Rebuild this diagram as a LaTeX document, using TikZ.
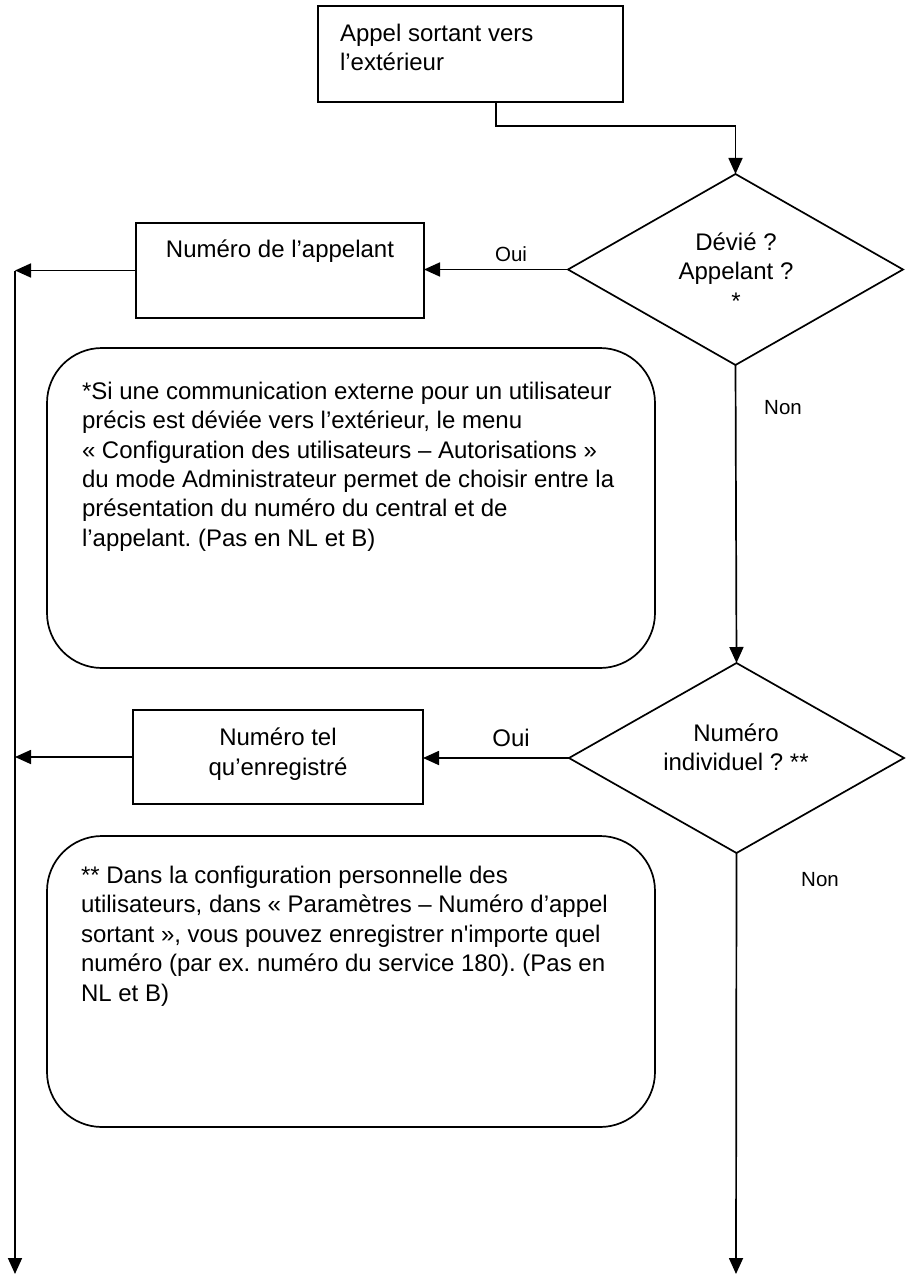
\documentclass[tikz,border=0pt]{standalone}
\usepackage{fontspec}
\setmainfont{Liberation Sans}
\usetikzlibrary{shapes.geometric,arrows.meta}
\frenchspacing
\tikzset{
  basefont/.style={font=\fontsize{24}{29.4}\selectfont},
  smallfont/.style={font=\fontsize{20.5}{24}\selectfont},
  txt/.style={basefont,inner sep=0pt,outer sep=0pt},
  boxnode/.style={draw,line width=1.7pt,inner sep=0pt,outer sep=0pt},
  notebox/.style={boxnode,rounded corners=55pt},
  decision/.style={boxnode,diamond},
  arr/.style={line width=1.7pt,-{Triangle[length=16pt,width=14pt]}}
}
\begin{document}
\begin{tikzpicture}[x=1pt,y=-1pt]
\useasboundingbox (0,0) rectangle (905,1276);

% start box
\node[boxnode,minimum width=305pt,minimum height=96pt] (start) at (470.5,54) {};
\node[txt,anchor=north west,align=left] (starttxt) at (340,24) {Appel sortant vers\\l’extérieur};

% decision 1
\node[decision,minimum width=335pt,minimum height=191pt] (d1) at (735.5,269.5) {};
\node[txt,align=center] (d1txt) at (736,271) {Dévié ?\\Appelant ?\\*};

% box 1
\node[boxnode,minimum width=288pt,minimum height=95pt] (box1) at (280,270.5) {};
\node[txt] (box1txt) at (280,251) {Numéro de l’appelant};

% note 1
\node[notebox,minimum width=608pt,minimum height=320pt] (note1) at (351,508) {};
\node[txt,anchor=north west,align=left] (note1txt) at (82,382) {*Si une communication externe pour un utilisateur\\précis est déviée vers l’extérieur, le menu\\« Configuration des utilisateurs – Autorisations »\\du mode Administrateur permet de choisir entre la\\présentation du numéro du central et de\\l’appelant. (Pas en NL et B)};

% decision 2
\node[decision,minimum width=335pt,minimum height=190pt] (d2) at (736.5,758) {};
\node[txt,align=center] (d2txt) at (736,747) {Numéro\\individuel ? **};

% box 2
\node[boxnode,minimum width=290pt,minimum height=94pt] (box2) at (278,757) {};
\node[txt,align=center] (box2txt) at (278,754) {Numéro tel\\qu’enregistré};

% note 2
\node[notebox,minimum width=608pt,minimum height=291pt] (note2) at (351,981.5) {};
\node[txt,anchor=north west,align=left] (note2txt) at (81,866) {** Dans la configuration personnelle des\\utilisateurs, dans « Paramètres – Numéro d’appel\\sortant », vous pouvez enregistrer n\textquotesingle importe quel\\numéro (par ex. numéro du service 180). (Pas en\\NL et B)};

% labels
\node[txt,smallfont] (oui1) at (511,254) {Oui};
\node[txt,smallfont] (non1) at (783,408) {Non};
\node[txt] (oui2) at (511,738) {Oui};
\node[txt,smallfont] (non2) at (820,880) {Non};

% free ends
\coordinate (leftcol) at (15,271);
\coordinate (leftend) at (15,1274);
\coordinate (rightend) at (736,1274);

% connectors
\draw[arr] ([xshift=25.5pt]start.south) -- ++(0,24) -| (d1.north);
\draw[arr] (d1.west) -- (d1.west -| box1.east);
\draw[arr] (box1.west) -- (box1.west -| leftcol);
\draw[arr] (leftcol) -- (leftend);
\draw[arr] (d1.south) -- (d2.north);
\draw[arr] (d2.west) -- (d2.west -| box2.east);
\draw[arr] (box2.west) -- (box2.west -| leftcol);
\draw[arr] (d2.south) -- (rightend);
\end{tikzpicture}
\end{document}
